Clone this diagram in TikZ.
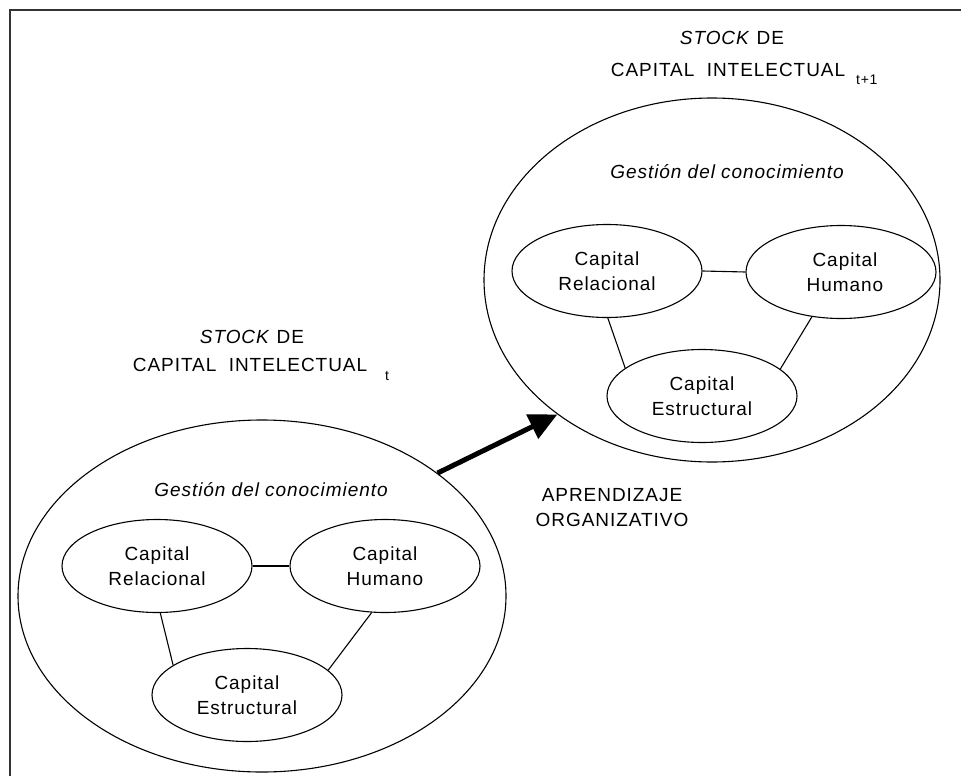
\documentclass[tikz,border=0pt]{standalone}
\usepackage{fontspec}
\setmainfont[LetterSpace=5]{Liberation Sans}
\usetikzlibrary{shapes.geometric,arrows.meta}
\begin{document}
\begin{tikzpicture}[x=1pt,y=-1pt,
  txt/.style={inner sep=0pt, font=\fontsize{19}{25}\selectfont, align=center},
  subtxt/.style={inner sep=0pt, font=\fontsize{14}{14}\selectfont, anchor=west},
  outerell/.style={draw, ellipse, line width=1.1pt, inner sep=0pt},
  capell/.style={draw, ellipse, line width=1.1pt, inner sep=0pt,
    minimum width=190pt, minimum height=93pt,
    font=\fontsize{19}{25}\selectfont, align=center},
  link/.style={line width=1.1pt},
  flow/.style={line width=5pt, -{Triangle[length=28pt,width=26pt]}}
]
  % page area
  \useasboundingbox (0,0) rectangle (961,776);
  % frame (top and left edges)
  \draw[line width=2pt, black!80] (10,776) -- (10,10) -- (961,10);

  % ---- stock at time t+1 (right) ----
  \node[txt] (titleR1) at (732,38) {\textit{STOCK} DE};
  \node[txt] (titleR2) at (728,70) {CAPITAL\ \ INTELECTUAL};
  \node[subtxt] (subR) at (856,80) {t+1};
  \node[outerell, minimum width=456pt, minimum height=364pt] (bigR) at (712,280) {};
  \node[txt, font=\fontsize{19}{25}\selectfont\itshape] (gestR) at (727,172) {Gestión del conocimiento};
  \node[capell] (relR) at (607,271) {Capital\\Relacional};
  \node[capell] (humR) at (841,272) {\hspace*{8pt}Capital\\\hspace*{8pt}Humano};
  \node[capell] (estR) at (702,396) {Capital\\Estructural};
  \draw[link] (relR.east) -- (humR.west);
  \draw[link] (relR.271) -- (estR.160.7);
  \draw[link] (humR.237.8) -- (estR.19.7);

  % ---- stock at time t (left) ----
  \node[txt] (titleL1) at (252,337) {\textit{STOCK} DE};
  \node[txt] (titleL2) at (250,365) {CAPITAL\ \ INTELECTUAL};
  \node[subtxt] (subL) at (385,376) {t};
  \node[outerell, minimum width=488pt, minimum height=352pt] (bigL) at (262,596) {};
  \node[txt, font=\fontsize{19}{25}\selectfont\itshape] (gestL) at (271,490) {Gestión del conocimiento};
  \node[capell] (relL) at (157,566) {Capital\\Relacional};
  \node[capell] (humL) at (385,566) {Capital\\Humano};
  \node[capell] (estL) at (247,695) {Capital\\Estructural};
  \draw[link] (relL.east) -- (humL.west);
  \draw[link] (relL.274) -- (estL.158.6);
  \draw[link] (humL.254) -- (estL.17);

  % ---- learning arrow ----
  \draw[flow] (bigL.35.6) -- (bigR.221.35);
  \node[txt] (learn) at (612,508) {APRENDIZAJE\\ORGANIZATIVO};
\end{tikzpicture}
\end{document}
